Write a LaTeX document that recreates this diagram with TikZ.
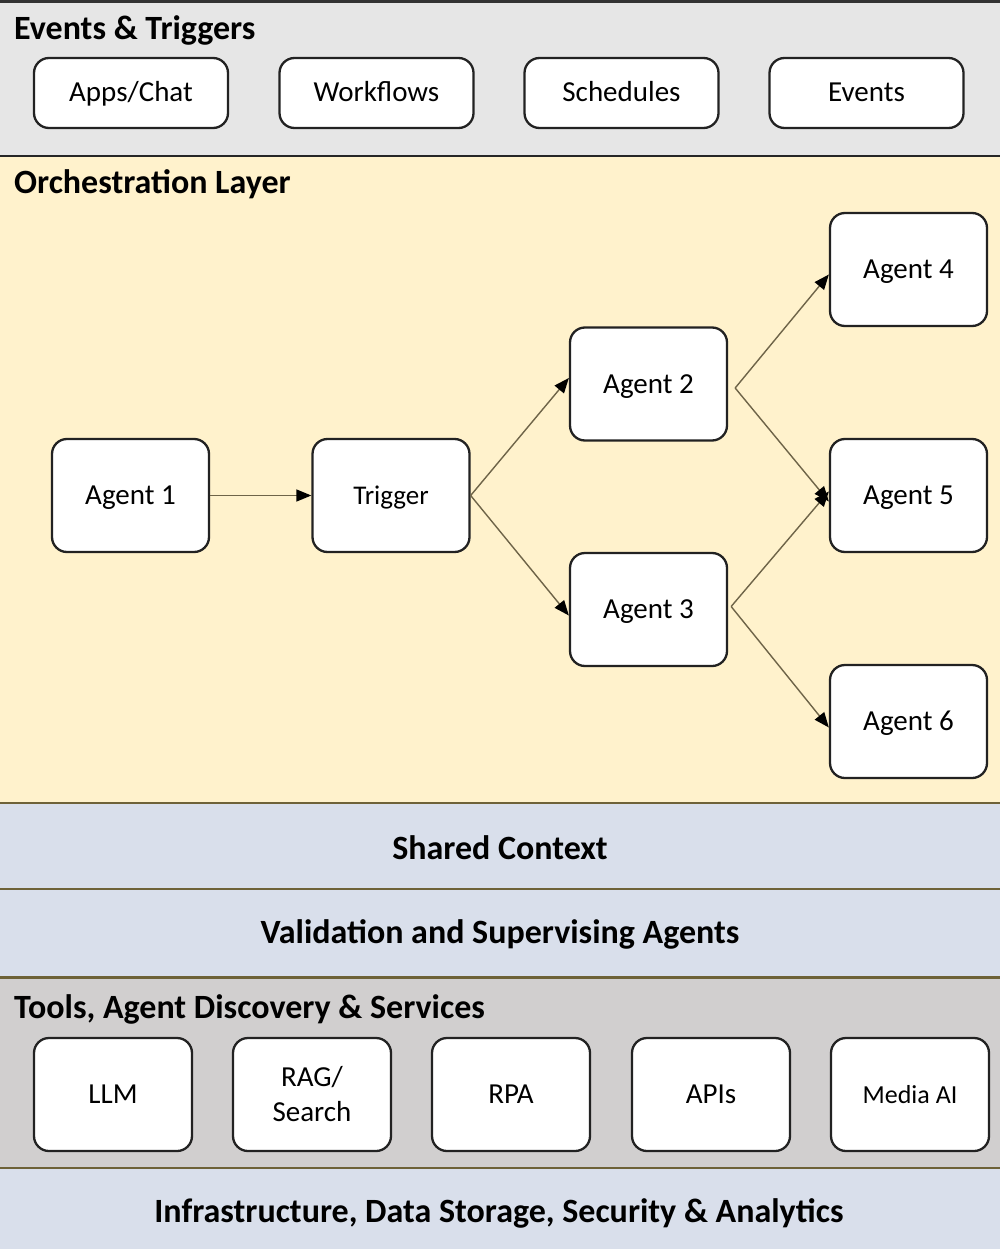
\documentclass[tikz,border=0pt]{standalone}
\usepackage{fontspec}
\setmainfont{Carlito}
\usetikzlibrary{arrows.meta}
\definecolor{bandgray}{HTML}{E6E6E6}
\definecolor{bandyellow}{HTML}{FFF2CC}
\definecolor{bandblue}{HTML}{D9DFEB}
\definecolor{bandtools}{HTML}{D1CFCF}
\definecolor{sepline}{HTML}{6E6238}
\definecolor{arrowline}{HTML}{6E6448}
\definecolor{boxline}{HTML}{222222}
\begin{document}
\begin{tikzpicture}[x=1pt,y=-1pt,
  box/.style={draw=boxline, line width=2.3pt, fill=white, rounded corners=15pt,
    align=center, inner sep=0pt},
  onetext/.style={text height=24pt, text depth=6pt},
  topbox/.style={box, onetext, minimum width=194pt, minimum height=70pt, font=\fontsize{29}{33}\selectfont},
  agentbox/.style={box, onetext, minimum width=157pt, minimum height=113pt, font=\fontsize{29}{33}\selectfont},
  toolbox/.style={box, minimum width=158pt, minimum height=113pt, font=\fontsize{29}{35}\selectfont},
  heading/.style={anchor=west, font=\fontsize{34}{38}\selectfont\bfseries, inner sep=0pt},
  bandtitle/.style={font=\fontsize{34}{38}\selectfont\bfseries, inner sep=0pt},
  flow/.style={draw=arrowline, line width=1.4pt, -{Triangle[length=15pt,width=12pt,color=black]}},
  sep/.style={draw=sepline, line width=2.2pt}
]
\useasboundingbox (0,0) rectangle (1000,1249);
% bands
\fill[bandgray] (0,0) rectangle (1000,156);
\fill[bandyellow] (0,156) rectangle (1000,803);
\fill[bandblue] (0,803) rectangle (1000,889);
\fill[bandblue] (0,889) rectangle (1000,977);
\fill[bandtools] (0,977) rectangle (1000,1168);
\fill[bandblue] (0,1168) rectangle (1000,1249);
\draw[draw=black!80, line width=2.2pt] (0,1.5) -- (1000,1.5);
\draw[draw=black!85, line width=2.4pt] (0,156) -- (1000,156);
\draw[sep] (0,803) -- (1000,803);
\draw[sep] (0,889) -- (1000,889);
\draw[sep, line width=3pt] (0,977) -- (1000,977);
\draw[sep] (0,1168) -- (1000,1168);

% headings
\node[heading] (hEvents) at (14,30) {Events \& Triggers};
\node[heading] (hOrch) at (14,184) {Orchestration Layer};
\node[bandtitle] (hShared) at (500,848) {Shared Context};
\node[bandtitle] (hValid) at (500,934) {Validation and Supervising Agents};
\node[heading] (hTools) at (14,1009) {Tools, Agent Discovery \& Services};
\node[bandtitle] (hInfra) at (499,1213) {Infrastructure, Data Storage, Security \& Analytics};

% top boxes
\node[topbox] (apps) at (131,93) {Apps/Chat};
\node[topbox] (workflows) at (376.5,93) {Workflows};
\node[topbox] (schedules) at (621.5,93) {Schedules};
\node[topbox] (events) at (866.5,93) {Events};

% agents
\node[agentbox] (a1) at (130.5,495.5) {Agent 1};
\node[agentbox, font=\fontsize{27}{31}\selectfont] (trig) at (391,495.5) {Trigger};
\node[agentbox] (a2) at (648.5,384) {Agent 2};
\node[agentbox] (a3) at (648.5,609.5) {Agent 3};
\node[agentbox] (a4) at (908.5,269.5) {Agent 4};
\node[agentbox] (a5) at (908.5,495.5) {Agent 5};
\node[agentbox] (a6) at (908.5,721.5) {Agent 6};

\coordinate (a2out) at ([xshift=7pt,yshift=-4pt]a2.east);
\coordinate (a3out) at ([xshift=3pt,yshift=3pt]a3.east);

\draw[flow] (a1.east) -- (trig.west);
\draw[flow] (trig.east) -- ([yshift=6pt]a2.west);
\draw[flow] (trig.east) -- ([yshift=-6pt]a3.west);
\draw[flow] (a2out) -- ([yshift=-5pt]a4.west);
\draw[flow] (a2out) -- ([yshift=-6pt]a5.west);
\draw[flow] (a3out) -- ([yshift=4pt]a5.west);
\draw[flow] (a3out) -- ([yshift=-6pt]a6.west);

% tools
\node[toolbox, onetext] (llm) at (113,1094.5) {LLM};
\node[toolbox] (rag) at (312,1094.5) {RAG/\\Search};
\node[toolbox, onetext] (rpa) at (511,1094.5) {RPA};
\node[toolbox, onetext] (apis) at (711,1094.5) {APIs};
\node[toolbox, onetext, font=\fontsize{26}{30}\selectfont] (media) at (910,1094.5) {Media AI};
\end{tikzpicture}
\end{document}
